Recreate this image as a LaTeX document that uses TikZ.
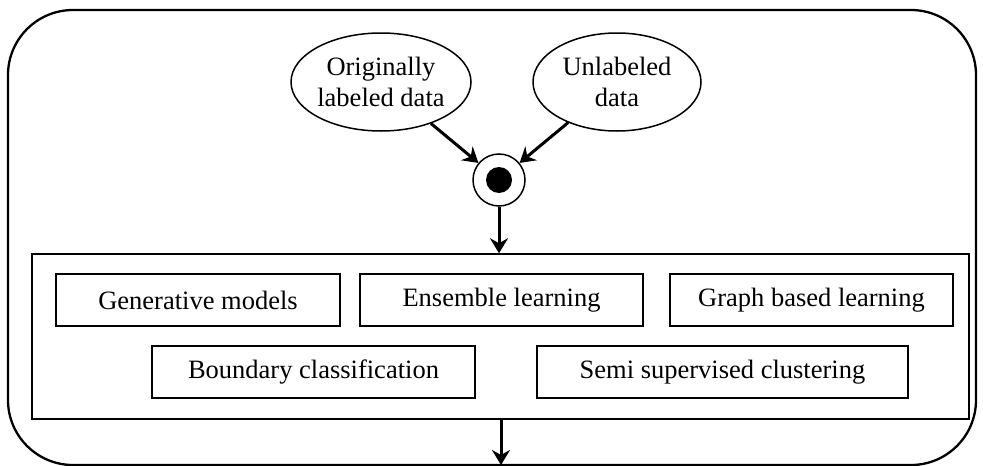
\documentclass[tikz,border=0pt]{standalone}
\usepackage{fontspec}
\setmainfont{Liberation Serif}
\usetikzlibrary{arrows.meta,shapes.geometric}
\begin{document}
\begin{tikzpicture}[x=1pt,y=-1pt,
  every node/.style={font=\fontsize{26.5}{30.5}\selectfont},
  method/.style={draw,line width=1.5pt,minimum height=52pt,inner sep=0pt},
  oval/.style={draw,ellipse,line width=1.5pt,align=center,inner sep=0pt},
  arr/.style={line width=3pt,-{Stealth[length=15pt,width=18pt,inset=5pt]}}]
\useasboundingbox (0,0) rectangle (983,466);
\draw[line width=2.3pt,rounded corners=65pt] (8,10) rectangle (976,465);
\node[draw,line width=1.5pt,minimum width=937pt,minimum height=165pt,inner sep=0pt] (frame) at (500.5,336.5) {};
\node[oval,minimum width=172pt,minimum height=98pt] (orig) at (381,82) {Originally\\labeled data};
\node[oval,minimum width=168pt,minimum height=98pt] (unl) at (617,82) {Unlabeled\\data};
\node[draw,circle,line width=1.5pt,minimum size=52pt,inner sep=0pt] (join) at (499,180) {};
\fill (join.center) circle (13pt);
\node[method,minimum width=284pt] (gen) at (198,300) {Generative models};
\node[method,minimum width=283pt] (ens) at (501.5,300) {Ensemble learning};
\node[method,minimum width=283pt] (graph) at (811.5,300) {Graph based learning};
\node[method,minimum width=323pt] (bound) at (313.5,372) {Boundary classification};
\node[method,minimum width=371pt] (semi) at (722.5,372) {Semi supervised clustering};
\coordinate (out) at (501,465);
\draw[arr] (orig) -- (join);
\draw[arr] (unl) -- (join);
\draw[arr] (join.south) -- (join.south |- frame.north);
\draw[arr] (out |- frame.south) -- (out);
\end{tikzpicture}
\end{document}
